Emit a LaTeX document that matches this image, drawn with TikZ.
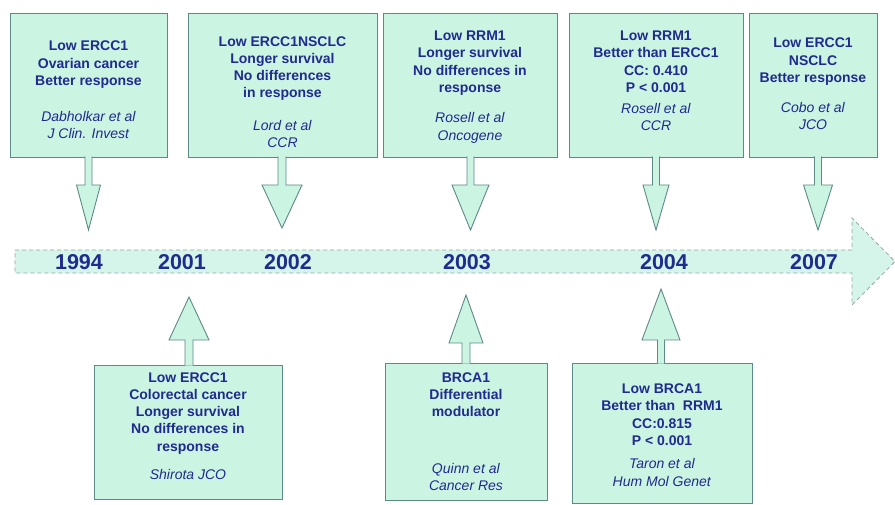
\documentclass[tikz,border=0pt]{standalone}
\usepackage{fontspec}
\setmainfont{Liberation Sans}
\usepackage{xcolor}
\definecolor{mintfill}{HTML}{CCF4E3}
\definecolor{mintline}{HTML}{5E8A86}
\definecolor{bandfill}{HTML}{D5F5EA}
\definecolor{bandline}{HTML}{98A7A4}
\definecolor{inkblue}{HTML}{1F2B8E}

\tikzset{
	finding/.style={draw=mintline, fill=mintfill, line width=0.9pt, inner sep=0pt},
	findtext/.style={align=center, text=inkblue, font=\fontsize{14}{17.3}\selectfont, inner sep=0pt},
	yearlabel/.style={text=inkblue, font=\fontsize{21.5}{21.5}\selectfont\bfseries},
	arrowshape/.style={draw=mintline, fill=mintfill, line width=0.9pt, line join=miter}
}
% x, start, head base, tip, half stem, half head
\newcommand{\blockarrow}[6]{%
	\draw[arrowshape] ({#1-#5},#2) -- ({#1-#5},#3) -- ({#1-#6},#3) -- (#1,#4) -- ({#1+#6},#3) -- ({#1+#5},#3) -- ({#1+#5},#2);}

\begin{document}
\begin{tikzpicture}[x=1pt,y=-1pt]
		\useasboundingbox[fill=white] (0,0) rectangle (895,505);
		% time line
		\draw[fill=bandfill, draw=bandline, line width=0.8pt, dash pattern=on 4pt off 3pt]
			(15,250) -- (852,250) -- (852,218) -- (895,261.5) -- (852,305) -- (852,273) -- (15,273) -- cycle;
		\node[yearlabel] (y1994) at (79,262) {1994};
		\node[yearlabel] (y2001) at (182,262) {2001};
		\node[yearlabel] (y2002) at (288,262) {2002};
		\node[yearlabel] (y2003) at (467,262) {2003};
		\node[yearlabel] (y2004) at (664,262) {2004};
		\node[yearlabel] (y2007) at (814,262) {2007};
		% top boxes
		\node[finding, minimum width=157pt, minimum height=144pt] (b1) at (88.5,85) {};
		\node[finding, minimum width=189pt, minimum height=144pt] (b2) at (282.5,85) {};
		\node[finding, minimum width=174pt, minimum height=144pt] (b3) at (470,85) {};
		\node[finding, minimum width=174pt, minimum height=144pt] (b4) at (656,85) {};
		\node[finding, minimum width=128pt, minimum height=144pt] (b5) at (813,85) {};
		\node[findtext, yshift=-5pt] (t1) at (b1)
			{\textbf{Low ERCC1}\\\textbf{Ovarian cancer}\\\textbf{Better response}\\[19pt]\textit{Dabholkar et al}\\\textit{J Clin. Invest}};
		\node[findtext, yshift=-7pt] (t2) at (b2)
			{\textbf{Low ERCC1NSCLC}\\\textbf{Longer survival}\\\textbf{No differences}\\\textbf{in response}\\[15pt]\textit{Lord et al}\\\textit{CCR}};
		\node[findtext, yshift=-2pt] (t3) at (b3)
			{\textbf{Low RRM1}\\\textbf{Longer survival}\\\textbf{No differences in}\\\textbf{response}\\[13pt]\textit{Rosell et al}\\\textit{Oncogene}};
		\node[findtext, yshift=4pt] (t4) at (b4)
			{\textbf{Low RRM1}\\\textbf{Better than ERCC1}\\\textbf{CC: 0.410}\\\textbf{P < 0.001}\\[4pt]\textit{Rosell et al}\\\textit{CCR}};
		\node[findtext, yshift=1pt] (t5) at (b5)
			{\textbf{Low ERCC1}\\\textbf{NSCLC}\\\textbf{Better response}\\[13pt]\textit{Cobo et al}\\\textit{JCO}};
		% bottom boxes
		\node[finding, minimum width=188pt, minimum height=134pt] (b6) at (188,432) {};
		\node[finding, minimum width=162pt, minimum height=137pt] (b7) at (466,431.5) {};
		\node[finding, minimum width=180pt, minimum height=140pt] (b8) at (662,433) {};
		\node[findtext, yshift=6pt] (t6) at (b6)
			{\textbf{Low ERCC1}\\\textbf{Colorectal cancer}\\\textbf{Longer survival}\\\textbf{No differences in}\\\textbf{response}\\[11pt]\textit{Shirota JCO}};
		\node[findtext] (t7) at (b7)
			{\textbf{BRCA1}\\\textbf{Differential}\\\textbf{modulator}\\[39pt]\textit{Quinn et al}\\\textit{Cancer Res}};
		\node[findtext, yshift=-2pt] (t8) at (b8)
			{\textbf{Low BRCA1}\\\textbf{Better than\ \ RRM1}\\\textbf{CC:0.815}\\\textbf{P < 0.001}\\[6pt]\textit{Taron et al}\\\textit{Hum Mol Genet}};
		% arrows
		\blockarrow{88.5}{156.5}{185}{230}{3.5}{12}
		\blockarrow{282}{156.5}{185}{228}{4}{20}
		\blockarrow{470.5}{156.5}{185}{230}{3.5}{18.5}
		\blockarrow{656}{156.5}{185}{230}{3.5}{13}
		\blockarrow{818}{156.5}{185}{230}{3.5}{14.5}
		%
		\blockarrow{189}{365.5}{340}{297}{4}{20}
		\blockarrow{466}{363.5}{343}{295}{4}{17}
		\blockarrow{661}{363.5}{340}{289}{3.5}{19}
	\end{tikzpicture}
\end{document}
